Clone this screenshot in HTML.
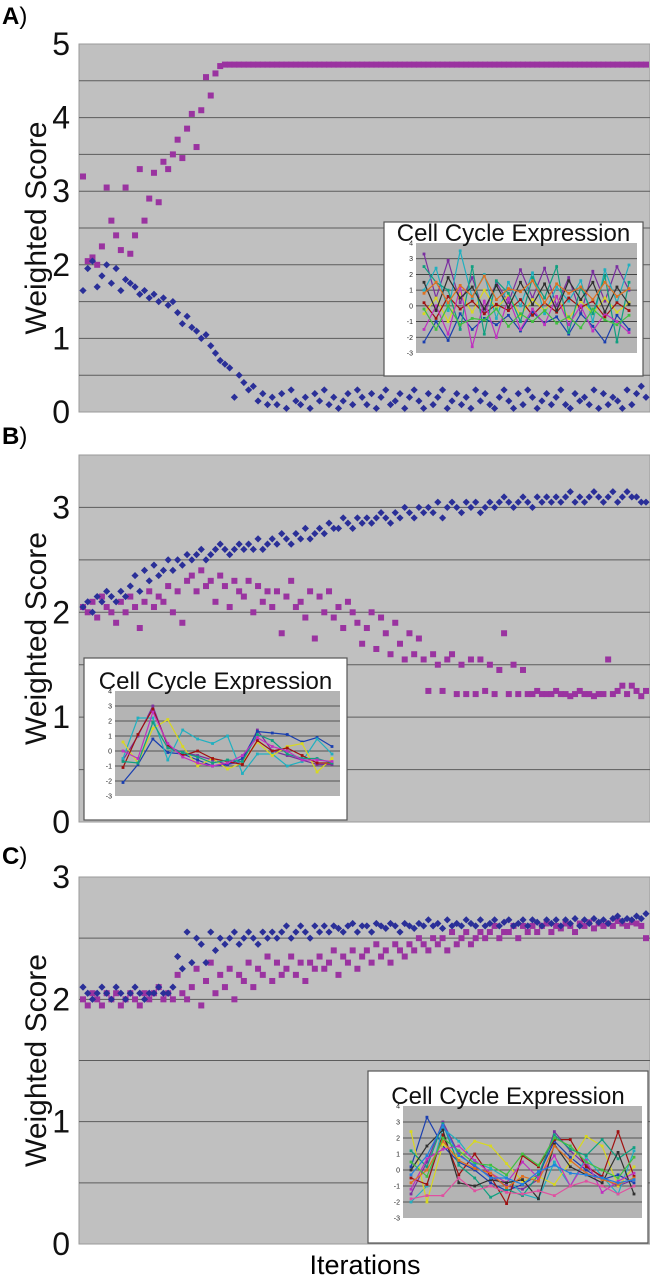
<!DOCTYPE html>
<html><head><meta charset="utf-8"><style>
html,body{margin:0;padding:0;background:#fff;}
svg{display:block;font-family:"Liberation Sans",Arial,sans-serif;}
</style></head><body>
<svg id="fig" width="650" height="1280" viewBox="0 0 650 1280" xmlns="http://www.w3.org/2000/svg">
<text x="2" y="24" font-size="24" font-weight="bold">A<tspan font-weight="normal">)</tspan></text>
<text x="2" y="444" font-size="24" font-weight="bold">B<tspan font-weight="normal">)</tspan></text>
<text x="2" y="864" font-size="24" font-weight="bold">C<tspan font-weight="normal">)</tspan></text>
<text x="365" y="1274" font-size="27" text-anchor="middle">Iterations</text>
</svg>
<script>
// ---- Panel A data ----
const aBlue=[1.65,1.95,2.05,1.7,1.85,2.0,1.75,1.95,1.65,1.8,
1.75,1.7,1.6,1.65,1.55,1.6,1.5,1.55,1.45,1.5,
1.35,1.2,1.3,1.15,1.1,1.0,1.05,0.9,0.8,0.7,
0.65,0.6,0.2,0.5,0.4,0.3,0.35,0.15,0.25,0.1,
0.2,0.1,0.25,0.05,0.3,0.15,0.1,0.2,0.05,0.25,
0.15,0.3,0.1,0.2,0.05,0.15,0.25,0.1,0.3,0.2,
0.1,0.25,0.05,0.2,0.3,0.1,0.15,0.25,0.05,0.2,
0.3,0.15,0.05,0.25,0.1,0.2,0.3,0.05,0.15,0.25,
0.1,0.2,0.05,0.3,0.15,0.25,0.1,0.05,0.2,0.3,
0.15,0.05,0.25,0.1,0.3,0.2,0.05,0.15,0.25,0.1,
0.2,0.3,0.1,0.05,0.25,0.15,0.2,0.1,0.3,0.05,
0.25,0.1,0.2,0.15,0.05,0.3,0.1,0.25,0.35,0.2];
const aPurple=[3.2,2.05,2.1,2.0,2.25,3.05,2.6,2.4,2.2,3.05,
2.15,2.4,3.3,2.6,2.9,3.25,2.85,3.4,3.3,3.5,
3.7,3.45,3.85,4.05,3.6,4.1,4.55,4.3,4.6,4.7,
4.72,4.72,4.72,4.72,4.72,4.72,4.72,4.72,4.72,4.72,
4.72,4.72,4.72,4.72,4.72,4.72,4.72,4.72,4.72,4.72,
4.72,4.72,4.72,4.72,4.72,4.72,4.72,4.72,4.72,4.72,
4.72,4.72,4.72,4.72,4.72,4.72,4.72,4.72,4.72,4.72,
4.72,4.72,4.72,4.72,4.72,4.72,4.72,4.72,4.72,4.72,
4.72,4.72,4.72,4.72,4.72,4.72,4.72,4.72,4.72,4.72,
4.72,4.72,4.72,4.72,4.72,4.72,4.72,4.72,4.72,4.72,
4.72,4.72,4.72,4.72,4.72,4.72,4.72,4.72,4.72,4.72,
4.72,4.72,4.72,4.72,4.72,4.72,4.72,4.72,4.72,4.72];
const aTicks=["0","1","2","3","4","5"];
// ---- Panel B data ----
const bBlue=[2.05,2.1,2.0,2.15,2.1,2.2,2.15,2.1,2.2,2.15,
2.25,2.35,2.2,2.4,2.3,2.45,2.35,2.4,2.5,2.4,
2.5,2.45,2.55,2.5,2.55,2.6,2.5,2.55,2.6,2.65,
2.6,2.55,2.6,2.65,2.6,2.65,2.6,2.7,2.6,2.65,
2.7,2.65,2.75,2.7,2.65,2.75,2.7,2.8,2.7,2.75,
2.8,2.75,2.85,2.8,2.8,2.9,2.85,2.8,2.9,2.85,
2.9,2.85,2.9,2.95,2.9,2.85,2.95,2.9,3.0,2.95,
2.9,3.0,2.95,3.0,2.95,3.05,2.9,3.0,3.05,3.0,
2.95,3.05,3.0,3.05,2.95,3.0,3.05,3.0,3.05,3.1,
3.05,3.0,3.05,3.1,3.05,3.0,3.1,3.05,3.1,3.05,
3.1,3.05,3.1,3.15,3.05,3.1,3.05,3.1,3.15,3.1,
3.05,3.1,3.15,3.05,3.1,3.15,3.1,3.1,3.05,3.05];
const bPurple=[2.05,2.0,2.1,1.95,2.15,2.05,2.0,1.9,2.1,2.0,
2.15,2.05,1.85,2.1,2.2,2.05,2.15,2.1,2.25,2.0,
2.2,1.9,2.3,2.35,2.2,2.4,2.25,2.3,2.1,2.35,
2.25,2.05,2.3,2.2,2.15,2.3,2.0,2.25,2.1,2.2,
2.05,2.2,1.8,2.15,2.3,2.05,2.1,1.95,2.2,1.75,
2.15,2.0,2.2,1.95,2.05,1.85,2.1,2.0,1.9,1.7,
1.85,2.0,1.65,1.95,1.8,1.6,1.9,1.7,1.55,1.8,
1.6,1.75,1.55,1.25,1.6,1.5,1.25,1.55,1.6,1.22,
1.5,1.22,1.55,1.22,1.55,1.25,1.5,1.22,1.45,1.8,
1.22,1.5,1.22,1.45,1.22,1.22,1.25,1.22,1.22,1.22,
1.25,1.22,1.22,1.2,1.22,1.25,1.22,1.22,1.2,1.22,
1.22,1.55,1.22,1.25,1.3,1.22,1.3,1.25,1.2,1.25];
const bTicks=["0","1","2","3"];
// ---- Panel C data ----
const cBlue=[2.1,2.05,2.0,2.05,2.1,2.05,2.0,2.1,2.05,2.0,
2.05,2.1,2.05,2.0,2.05,2.05,2.1,2.05,2.05,2.1,
2.35,2.25,2.55,2.3,2.5,2.45,2.3,2.55,2.4,2.5,
2.45,2.5,2.55,2.45,2.5,2.55,2.5,2.45,2.55,2.5,
2.55,2.5,2.55,2.6,2.5,2.55,2.6,2.55,2.5,2.6,
2.55,2.6,2.55,2.6,2.58,2.55,2.6,2.62,2.55,2.6,
2.6,2.55,2.62,2.6,2.58,2.62,2.6,2.55,2.62,2.6,
2.58,2.62,2.6,2.65,2.6,2.62,2.58,2.65,2.6,2.62,
2.6,2.65,2.62,2.6,2.65,2.6,2.62,2.65,2.6,2.63,
2.65,2.6,2.62,2.65,2.6,2.65,2.63,2.6,2.65,2.62,
2.65,2.6,2.65,2.62,2.66,2.6,2.65,2.62,2.66,2.63,
2.65,2.62,2.66,2.68,2.64,2.66,2.65,2.68,2.66,2.7];
const cPurple=[2.0,1.95,2.05,2.0,1.95,2.05,2.0,2.05,1.95,2.0,
2.05,2.0,1.95,2.05,2.0,2.05,2.1,2.0,2.05,2.0,
2.2,2.05,2.0,2.1,2.25,1.95,2.15,2.3,2.05,2.2,
2.1,2.25,2.0,2.2,2.15,2.3,2.1,2.25,2.2,2.35,
2.15,2.3,2.2,2.25,2.35,2.2,2.3,2.15,2.3,2.25,
2.35,2.25,2.3,2.4,2.2,2.35,2.3,2.4,2.25,2.35,
2.4,2.3,2.45,2.35,2.4,2.3,2.45,2.4,2.35,2.45,
2.4,2.5,2.45,2.4,2.5,2.45,2.5,2.4,2.55,2.45,
2.5,2.55,2.45,2.5,2.55,2.5,2.55,2.6,2.5,2.55,
2.55,2.6,2.5,2.6,2.55,2.6,2.55,2.6,2.62,2.55,
2.6,2.58,2.62,2.6,2.55,2.62,2.6,2.63,2.58,2.62,
2.6,2.62,2.6,2.64,2.62,2.6,2.63,2.62,2.6,2.5];
const cTicks=["0","1","2","3"];
// ---- Inset data ----
const insetTicks=["-3","-2","-1","0","1","2","3","4"];
const insetA=[
[3.3,0.5,2.9,0.2,1.8,-0.5,1.5,0.2,2.3,0.5,2.4,0.0,1.8,-0.5,2.2,0.3,2.5,1.0],
[-2.3,-1.0,-2.2,-0.5,-1.5,-0.8,-1.2,-0.6,-1.6,-0.4,-1.1,-0.7,-1.8,-0.5,-1.3,-2.3,-0.6,-1.5],
[1.0,2.4,-0.3,3.5,0.5,2.0,-0.8,1.5,0.0,2.1,-0.5,1.2,0.3,1.6,-1.0,2.3,0.2,2.6],
[-0.5,0.5,-1.0,0.8,-0.4,1.0,-0.2,0.7,-0.6,0.4,-0.3,0.6,-0.8,0.3,-0.5,0.5,-0.4,0.2],
[0.2,-0.8,0.6,-0.2,0.3,-0.5,0.1,-0.3,0.4,-0.6,0.2,-0.4,0.5,-0.1,0.3,-0.7,0.2,-0.3],
[2.5,1.5,1.0,-1.5,2.5,-1.8,1.6,0.8,-1.0,1.8,0.5,2.5,-1.7,1.2,-0.5,1.9,-2.3,1.5],
[-1.5,0.0,-1.8,1.2,-2.6,0.3,-2.0,0.5,-1.5,-0.2,-1.2,0.6,-1.2,0.0,-1.6,-0.5,-1.0,-1.7],
[1.5,-0.3,1.8,0.5,1.2,-0.2,1.3,-0.1,1.5,0.1,1.4,-0.3,1.6,0.4,1.5,-0.4,1.2,0.1],
[0.8,1.5,0.2,1.3,0.6,1.9,0.4,1.1,0.9,1.6,0.2,1.4,0.8,1.2,0.4,1.5,0.6,1.1],
[-0.2,-1.5,0.0,-1.2,-0.8,-0.9,-0.2,-1.3,-0.5,-1.0,-0.3,-1.1,-0.7,-1.4,-0.2,-0.9,-1.2,-0.6]];
const insetB=[
[-0.6,1.0,3.0,0.3,-0.1,-0.3,-0.6,-0.9,-0.7,1.4,0.0,-0.3,-0.6,-0.9,-0.9],
[-2.1,-0.9,0.8,-0.1,-0.2,-0.6,-1.0,-0.9,-0.5,1.3,1.2,1.1,0.6,0.9,0.3],
[-0.5,2.2,2.2,-0.6,1.4,0.8,0.5,1.0,-1.5,-0.2,-0.2,-1.0,-0.7,0.8,-0.2],
[0.6,-0.8,1.5,2.1,0.3,-1.0,-0.5,-1.2,-0.8,0.6,-0.3,0.3,0.5,-1.4,-0.5],
[-1.1,1.1,2.8,0.4,-0.3,0.0,-0.5,-0.7,-0.9,0.7,0.0,0.2,-0.3,-0.8,-0.8],
[-0.7,-0.8,1.9,0.2,-0.1,-0.4,-0.8,-0.6,-0.7,1.1,0.7,-0.2,-0.5,-0.5,-0.8],
[0.0,-0.5,2.6,0.5,-0.4,-0.8,-1.0,-0.8,-0.3,0.9,0.3,0.0,-0.6,-0.6,-0.7]];
const insetC=[
[-1.5,0.5,3.0,1.0,0.2,-0.4,-1.0,-1.2,-0.6,2.4,1.2,0.3,-0.5,-1.0,-0.6],
[0.2,3.3,1.5,0.5,0.0,-0.8,-1.3,-0.9,-0.3,1.8,0.8,0.0,-0.6,-0.3,-0.8],
[-2.0,-1.0,2.6,1.8,0.5,0.1,-0.5,-1.5,-1.8,0.5,-1.0,0.8,-0.4,-1.5,1.2],
[2.4,-2.0,1.6,0.8,1.8,1.5,0.4,-0.7,-0.4,-0.9,0.5,2.1,1.5,-1.0,0.2],
[-0.5,-0.9,2.2,-0.3,1.0,-0.4,-2.1,0.9,0.2,1.9,1.9,0.2,-0.4,2.4,-0.4],
[1.2,0.2,2.9,0.3,-0.5,-1.7,-1.2,-1.6,-0.3,2.2,1.3,0.9,1.9,0.7,1.4],
[-1.2,0.7,1.3,1.5,0.6,-0.2,-0.8,0.5,-0.5,0.9,-1.0,0.6,-1.4,-0.7,-0.2],
[0.0,1.5,2.5,-0.8,-1.0,-0.6,-0.8,-0.6,-1.8,1.6,0.2,-0.3,-0.8,1.1,-1.5],
[-0.8,0.0,1.8,0.6,0.1,-0.2,-1.1,-0.4,-0.7,1.5,0.6,-0.2,-0.6,-0.9,-0.5],
[0.5,-0.4,2.0,1.2,0.4,0.3,-0.3,1.0,0.3,2.0,1.5,0.5,0.0,-0.5,0.8],
[-1.8,-1.6,-1.6,-0.5,-1.3,-1.0,-1.4,-1.5,-1.3,-1.6,-1.0,-0.7,-1.0,-1.5,-1.0],
[-0.3,0.9,2.8,0.9,0.3,-0.5,-0.5,-0.9,-0.1,0.3,-0.2,-0.3,-0.5,-0.8,-0.6]];
const lineColors=["#7b2fa0","#1a3fb0","#20b0c0","#d8d820","#a01010","#10a080","#c030c0","#303030","#e07020","#40c040","#e050a0","#2080e0"];

const NS="http://www.w3.org/2000/svg";
const svg=document.getElementById('fig');
function mk(tag,attrs,parent){const e=document.createElementNS(NS,tag);for(const k in attrs)e.setAttribute(k,attrs[k]);(parent||svg).appendChild(e);return e;}

function panel(key,cfg,blue,purple,ticks){
  const g=mk('g',{});
  
  
  const X0=79,X1=650;
  const y=v=>cfg.bot-(v/cfg.max)*(cfg.bot-cfg.top);
  const bg=mk('rect',{x:X0,y:cfg.top,width:X1-X0,height:cfg.bot-cfg.top,fill:'#c0c0c0',stroke:'#9a9a9a','stroke-width':1},g);
  
  
  for(let v=0.5;v<cfg.max-0.01;v+=0.5){
    const ln=mk('line',{x1:X0,x2:X1,y1:y(v),y2:y(v),stroke:'#5c5c5c','stroke-width':1},g);
    
    
  }
  ticks.forEach(t=>{
    const tx=mk('text',{x:70,y:y(+t)+11,'font-size':32,'text-anchor':'end',fill:'#111'},g);
    tx.textContent=t;
    
    
  });
  const cy=(cfg.top+cfg.bot)/2;
  const yt=mk('text',{x:0,y:0,'font-size':30,'text-anchor':'middle',fill:'#111',transform:`translate(46,${cy}) rotate(-90)`},g);
  yt.textContent='Weighted Score';
  
  
  const n=blue.length;
  const x=i=>X0+4+i*(X1-X0-8)/(n-1);
  purple.forEach((v,i)=>{
    const r=mk('rect',{x:x(i)-3,y:y(v)-3,width:6,height:6,fill:'#9a33a0'},g);
    
    
  });
  blue.forEach((v,i)=>{
    const px=x(i),py=y(v);
    const p=mk('polygon',{points:`${px},${py-3.6} ${px+3.6},${py} ${px},${py+3.6} ${px-3.6},${py}`,fill:'#2a2f98'},g);
    
    
  });
}
panel('panel-a',{top:44,bot:412,max:5},aBlue,aPurple,aTicks);
panel('panel-b',{top:455,bot:822,max:3.5},bBlue,bPurple,bTicks);
panel('panel-c',{top:877,bot:1244,max:3},cBlue,cPurple,cTicks);

function inset(key,box,plot,lines){
  const g=mk('g',{});
  
  
  const b=mk('rect',{x:box[0],y:box[1],width:box[2]-box[0],height:box[3]-box[1],fill:'#fff',stroke:'#555','stroke-width':1.2},g);
  
  
  const y=v=>plot.bot-(v+3)/7*(plot.bot-plot.top);
  const pr=mk('rect',{x:plot.l,y:plot.top,width:plot.r-plot.l,height:plot.bot-plot.top,fill:'#b4b4b4'},g);
  
  
  insetTicks.forEach(tk=>{
    const v=+tk;
    if(v>-3&&v<4){const l=mk('line',{x1:plot.l,x2:plot.r,y1:y(v),y2:y(v),stroke:'#333','stroke-width':0.8},g);
      
      }
    const tx=mk('text',{x:plot.l-3,y:y(v)+2.5,'font-size':7,'text-anchor':'end',fill:'#222'},g);
    tx.textContent=tk;
    
    
  });
  lines.forEach((arr,k)=>{
    const n=arr.length;
    const x=i=>plot.l+8+i*(plot.r-plot.l-16)/(n-1);
    const pts=arr.map((v,i)=>x(i)+','+y(v)).join(' ');
    const pl=mk('polyline',{points:pts,fill:'none',stroke:lineColors[k%lineColors.length],'stroke-width':1.2},g);
    
    
    arr.forEach((v,i)=>{const d=mk('rect',{x:x(i)-1.4,y:y(v)-1.4,width:2.8,height:2.8,fill:lineColors[k%lineColors.length]},g);
      
      });
  });
  const t=mk('text',{x:(box[0]+box[2])/2,y:plot.top-2,'font-size':24,'text-anchor':'middle',fill:'#111'},g);
  t.textContent='Cell Cycle Expression';
  
  
}
inset('panel-a',[384,222,643,376],{l:416,r:637,top:243,bot:353},insetA);
inset('panel-b',[84,658,347,820],{l:115,r:340,top:691,bot:796},insetB);
inset('panel-c',[368,1071,648,1243],{l:403,r:642,top:1106,bot:1218},insetC);
</script>
</body></html>
